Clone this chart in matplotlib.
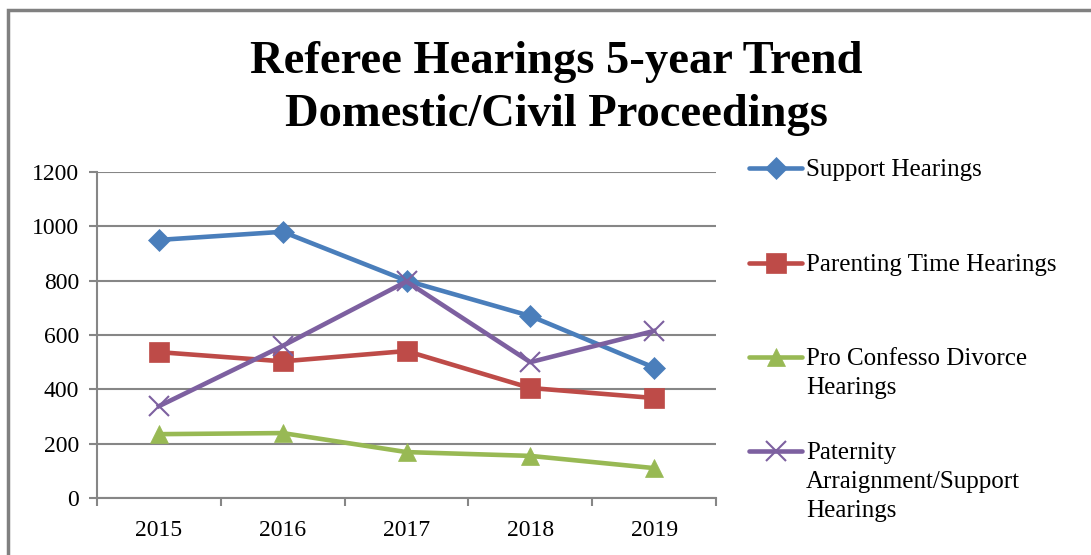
import matplotlib
matplotlib.use("Agg")
import matplotlib.pyplot as plt
from matplotlib.lines import Line2D
from matplotlib.patches import Rectangle

years = ["2015", "2016", "2017", "2018", "2019"]
support = [950, 980, 800, 670, 480]
parenting = [537, 503, 541, 405, 368]
pro_confesso = [235, 239, 169, 155, 110]
paternity = [338, 560, 797, 500, 615]

labels = ["Support Hearings", "Parenting Time Hearings",
          "Pro Confesso Divorce\nHearings",
          "Paternity\nArraignment/Support\nHearings"]
colors = ["#4A7EBB", "#BE4B48", "#98B954", "#7D60A0"]
markers = ["D", "s", "^", "x"]
msizes = [11, 14, 13, 14]
series = [support, parenting, pro_confesso, paternity]

plt.rcParams['font.family'] = ['Liberation Serif', 'DejaVu Serif']

fig = plt.figure(figsize=(10.91, 5.55), dpi=100)
fig.patches.append(Rectangle((8/1091, -0.1), 1.2, 1 - 10/555 + 0.1,
                             transform=fig.transFigure, fill=False,
                             edgecolor="#808080", linewidth=2.5))

ax = fig.add_axes([97/1091, 1 - 498/555, (716 - 97)/1091, (498 - 172)/555])
x = list(range(1, len(years) + 1))
for vals, c, m, ms in zip(series, colors, markers, msizes):
    ax.plot(x, vals, color=c, linewidth=3.3, marker=m, markersize=ms,
            markeredgewidth=1.5 if m == "x" else 0.5, markeredgecolor=c,
            markerfacecolor=c, zorder=3, clip_on=False)

ax.set_xlim(0.5, len(years) + 0.5)
ax.set_ylim(0, 1200)
ax.set_yticks(range(0, 1201, 200))
ax.set_xticks([i + 0.5 for i in range(0, len(years) + 1)])
ax.set_xticklabels([])
ax.set_xticks(x, minor=True)
ax.set_xticklabels(years, minor=True)
ax.tick_params(axis="x", which="minor", length=0, labelsize=17, pad=16)
ax.tick_params(axis="x", which="major", length=6, width=1.5, color="#868686", direction="out")
ax.tick_params(axis="y", length=6, width=1.5, color="#868686", labelsize=17, pad=7)
ax.grid(axis="y", color="#868686", linewidth=1.5)
ax.set_axisbelow(True)
for s in ["top", "right"]:
    ax.spines[s].set_visible(False)
for s in ["left", "bottom"]:
    ax.spines[s].set_color("#868686")
    ax.spines[s].set_linewidth(1.5)

fig.text(556/1091, 1 - 62/555, "Referee Hearings 5-year Trend", ha="center", va="center",
         fontsize=33.5, fontweight="bold")
fig.text(556/1091, 1 - 115/555, "Domestic/Civil Proceedings", ha="center", va="center",
         fontsize=33.5, fontweight="bold")

ys = [168, 263, 357, 451]
for lab, c, m, ms, yy in zip(labels, colors, markers, msizes, ys):
    yf = 1 - yy/555
    fig.add_artist(Line2D([749/1091, 802/1091], [yf, yf], transform=fig.transFigure,
                          color=c, linewidth=3.3, solid_capstyle="round"))
    fig.add_artist(Line2D([775.5/1091], [yf], transform=fig.transFigure, color=c,
                          marker=m, markersize=ms, markerfacecolor=c, markeredgecolor=c,
                          markeredgewidth=1.5 if m == "x" else 0.5, linestyle="none"))
    fig.text(806/1091, 1 - (yy - 9)/555, lab, ha="left", va="top", fontsize=18,
             linespacing=1.42)

fig.savefig("out.png", dpi=100)
